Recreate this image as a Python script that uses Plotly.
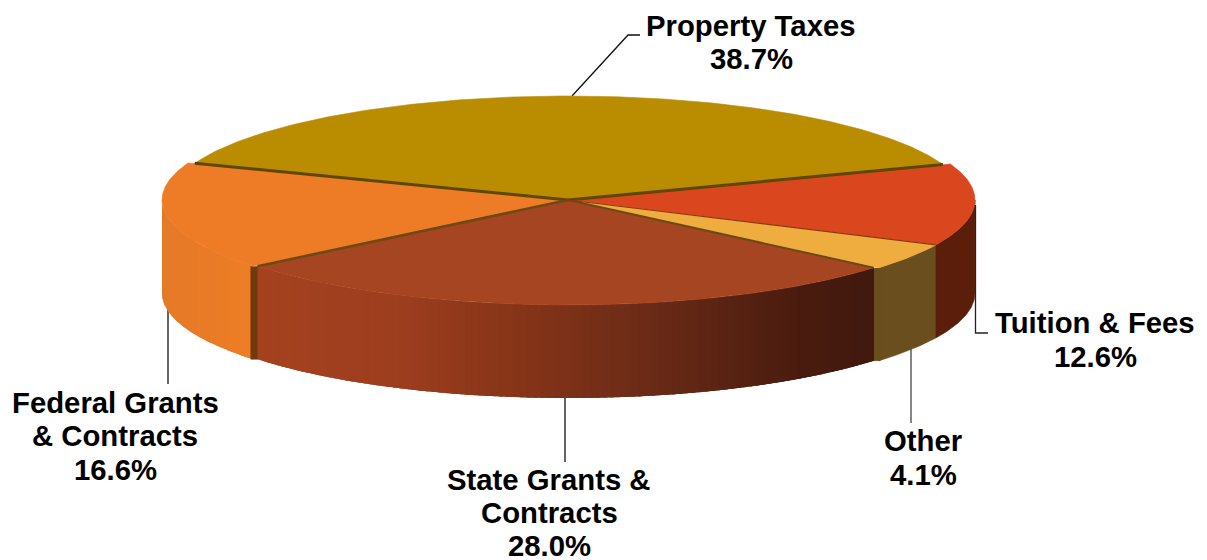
import numpy as np
import plotly.graph_objects as go

# --- data ---
categories = ["Property Taxes", "Federal Grants & Contracts", "State Grants & Contracts", "Other", "Tuition & Fees"]
shares = [38.7, 16.6, 28.0, 4.1, 12.6]
label_lines = [
    ["Property Taxes", "38.7%"],
    ["Federal Grants", "& Contracts", "16.6%"],
    ["State Grants &", "Contracts", "28.0%"],
    ["Other", "4.1%"],
    ["Tuition & Fees", "12.6%"],
]

# --- styles / layout ---
W, H = 1207, 560
CX, CY = 568.0, 200.0
DEPTH = 93.0
START = 20.0
RADII = [(399, 104), (406, 105), (400, 105), (407, 105), (407, 105)]
TOP_COL = ["#BA8C00", "#EE7C26", "#A64521", "#EFAD40", "#DA471E"]
FED_STOPS = [(163, "#E57A28"), (200, "#E97B27"), (255, "#EF7F25")]
STATE_STOPS = [(259, "#A5421F"), (400, "#9D3E1F"), (500, "#8A3619"), (650, "#6B2B17"), (800, "#4A1C0F"), (875, "#41190E")]
OTHER_SIDE = "#6A4E1E"
TUITION_SIDE = "#5A1E0B"
CUT_COL = "#6F3A10"
EDGE_PROP = "#5F4700"
EDGE_STATE = "#6E4A12"
EDGE_TUIT = "#8A3B10"
LABEL_POS = [(751, [25, 58]), (115, [402, 435, 469]), (549, [479, 512, 545]), (923, [440, 474]), (1095, [322, 356])]
LEADERS = [
    ([572, 628, 640], [96, 35, 35], "#111111"),
    ([168, 168], [300, 384], "#111111"),
    ([565, 565], [395, 462], "#111111"),
    ([911, 911], [345, 423], "#444444"),
    ([975.5, 975.5, 988], [205, 333, 333], "#222222"),
]

# --- geometry derived from the shares ---
edges = START + np.concatenate([[0], np.cumsum(np.array(shares) / sum(shares) * 360.0)])


def pt(a, r, dz=0.0):
    t = np.radians(a)
    return CX + r[0] * np.cos(t), CY - r[1] * np.sin(t) + dz


def arc(a0, a1, r, dz=0.0, n=None):
    n = n or max(3, int(abs(a1 - a0) * 2))
    return pt(np.linspace(a0, a1, n), r, dz)


def hex2rgb(h):
    return np.array([int(h[i:i + 2], 16) for i in (1, 3, 5)], float)


def ramp(x, stops):
    xs = [s[0] for s in stops]
    cs = np.array([hex2rgb(s[1]) for s in stops])
    c = [np.interp(x, xs, cs[:, i]) for i in range(3)]
    return "rgb(%d,%d,%d)" % tuple(c)


fig = go.Figure()


def poly(x, y, col, name=None, width=0.6):
    fig.add_trace(go.Scatter(x=list(x), y=list(y), mode="lines", fill="toself", fillcolor=col,
                             line=dict(color=col, width=width), hoverinfo="skip", name=name))


def side(a0, a1, r, colour_fn, step=None):
    if step is None:
        xt, yt = arc(a0, a1, r)
        xb, yb = arc(a1, a0, r, DEPTH)
        poly(np.r_[xt, xb, xt[0]], np.r_[yt, yb, yt[0]], colour_fn(xt.mean()))
        return
    # painted left to right, each strip running under the next, so no seams show
    s = a0
    while s < a1:
        e = min(s + 2.5 * step, a1)
        xt, yt = arc(s, e, r, n=6)
        xb, yb = arc(e, s, r, DEPTH, n=6)
        poly(np.r_[xt, xb, xt[0]], np.r_[yt, yb, yt[0]], colour_fn(pt(s + step / 2, r)[0]), width=0)
        s += step


# leaders sit behind the pie
for lx, ly, col in LEADERS:
    fig.add_trace(go.Scatter(x=lx, y=ly, mode="lines", line=dict(color=col, width=1.3), hoverinfo="skip"))

# front walls (only the part below the axis faces the viewer)
side(180.0, edges[2], RADII[1], lambda x: ramp(x, FED_STOPS), step=3.0)
side(edges[3], edges[4], RADII[3], lambda x: OTHER_SIDE)
side(edges[4], 360.0, RADII[4], lambda x: TUITION_SIDE)
# cut face of the federal slice
fx, fy = pt(edges[2], RADII[1])
sx, sy = pt(edges[2], RADII[2])
poly([fx - 2, fx - 2, sx + 1, sx + 1], [fy, fy + DEPTH, sy + DEPTH, sy], CUT_COL)
# small step between the state wall and the other wall
ex, ey = pt(edges[3], RADII[2])
ox, oy = pt(edges[3], RADII[3])
poly([ex - 1, ex - 1, ox + 1, ox + 1], [ey, ey + DEPTH, oy + DEPTH, oy], OTHER_SIDE)
side(edges[2], edges[3], RADII[2], lambda x: ramp(x, STATE_STOPS), step=1.0)

# top faces
for i in [1, 4, 3, 0, 2]:
    x, y = arc(edges[i], edges[i + 1], RADII[i])
    poly(np.r_[CX, x, CX], np.r_[CY, y, CY], TOP_COL[i], categories[i])


def edge(a, r, col, w):
    x, y = pt(a, r)
    fig.add_trace(go.Scatter(x=[CX, x], y=[CY, y], mode="lines", line=dict(color=col, width=w), hoverinfo="skip"))


edge(edges[0], RADII[0], EDGE_PROP, 3.0)
edge(edges[1], RADII[0], EDGE_PROP, 3.0)
edge(edges[2], RADII[2], EDGE_STATE, 2.6)
edge(edges[3], RADII[2], EDGE_STATE, 2.0)
edge(edges[4], RADII[4], EDGE_TUIT, 1.2)

for lines, (px, ys) in zip(label_lines, LABEL_POS):
    for txt, py in zip(lines, ys):
        fig.add_annotation(x=px, y=py, text="<b>%s</b>" % txt, showarrow=False, xanchor="center", yanchor="middle",
                           font=dict(family="Liberation Sans, Arial, sans-serif", size=29.3, color="#000000"))

fig.update_layout(
    width=W, height=H, margin=dict(l=0, r=0, t=0, b=0), showlegend=False,
    paper_bgcolor="#FFFFFF", plot_bgcolor="#FFFFFF",
    xaxis=dict(range=[0, W], visible=False, fixedrange=True),
    yaxis=dict(range=[H, 0], visible=False, fixedrange=True),
)
fig.write_html("out.html", config={"displayModeBar": False},
               post_script="document.body.style.margin='0';document.documentElement.style.overflow='hidden';")
